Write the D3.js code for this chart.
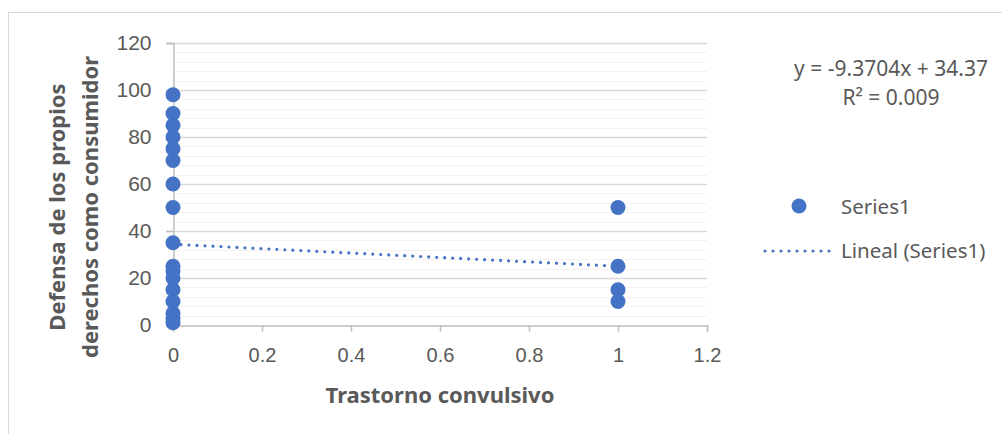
<!DOCTYPE html>
<html>
<head>
<meta charset="utf-8">
<script src="https://cdn.jsdelivr.net/npm/d3@7"></script>
<style>
  body { margin: 0; background: #fff; }
  svg { display: block; font-family: "Noto Sans", "Open Sans", sans-serif; }
</style>
</head>
<body>
<div id="chart"></div>
<script>
// Data
const xValues = [0, 0, 0, 0, 0, 0, 0, 0, 0, 0, 0, 0, 0, 0, 0, 0, 0, 1, 1, 1, 1];
const yValues = [98, 90, 85, 80, 75, 70, 60, 50, 35, 25, 23, 20, 15, 10, 5, 3, 1, 50, 25, 15, 10];
const xTicks = [0, 0.2, 0.4, 0.6, 0.8, 1, 1.2];
const yTicks = [0, 20, 40, 60, 80, 100, 120];
const trendCoef = [-9.3704, 34.37]; // slope, intercept
const trendRange = [0, 1];
const equationLines = ["y = -9.3704x + 34.37", "R² = 0.009"];
const legendLabels = ["Series1", "Lineal (Series1)"];

const W = 1002, H = 434;
const plot = { left: 173, right: 707, top: 43, bottom: 325 };
const blue = "#4472C4";
const textColor = "#595959";

const svg = d3.select("#chart").append("svg")
  .attr("width", W)
  .attr("height", H);

// Chart frame
svg.append("rect")
  .attr("x", 8.5).attr("y", 12.5)
  .attr("width", W + 10).attr("height", H + 10)
  .attr("fill", "#fff")
  .attr("stroke", "#d9d9d9");

const x = d3.scaleLinear().domain([0, 1.2]).range([plot.left, plot.right]);
const y = d3.scaleLinear().domain([0, 120]).range([plot.bottom, plot.top]);

// Minor gridlines (every 4)
svg.append("g")
  .selectAll("line")
  .data(d3.range(4, 120, 4).filter(v => v % 20 !== 0))
  .enter().append("line")
  .attr("x1", plot.left).attr("x2", plot.right)
  .attr("y1", d => Math.round(y(d)) + 0.5).attr("y2", d => Math.round(y(d)) + 0.5)
  .attr("stroke", "#f2f2f2").attr("stroke-width", 1);

// Major gridlines
svg.append("g")
  .selectAll("line")
  .data(yTicks.filter(v => v > 0))
  .enter().append("line")
  .attr("x1", plot.left - 7).attr("x2", plot.right)
  .attr("y1", d => Math.round(y(d)) + 0.5).attr("y2", d => Math.round(y(d)) + 0.5)
  .attr("stroke", "#d9d9d9").attr("stroke-width", 1.5);

// Y axis
const yAxis = svg.append("g")
  .attr("transform", `translate(${plot.left + 0.5},0)`)
  .call(d3.axisLeft(y).tickValues(yTicks).tickSize(7).tickPadding(15).tickFormat(d3.format("d")));
yAxis.select(".domain").attr("stroke", "#bfbfbf").attr("stroke-width", 1.5);
yAxis.selectAll(".tick line").attr("stroke", "#bfbfbf").attr("stroke-width", 1.5);
yAxis.selectAll("text").attr("fill", textColor).style("font-size", "21px");

// X axis
const xAxis = svg.append("g")
  .attr("transform", `translate(0,${plot.bottom + 0.5})`)
  .call(d3.axisBottom(x).tickValues(xTicks).tickSize(6).tickPadding(16).tickFormat(d => d3.format("")(+d.toFixed(1))));
xAxis.select(".domain").attr("stroke", "#bfbfbf").attr("stroke-width", 1.5);
xAxis.selectAll(".tick line").attr("stroke", "#bfbfbf").attr("stroke-width", 1.5);
xAxis.selectAll("text").attr("fill", textColor).style("font-size", "20px");

// Trendline
const trend = trendRange.map(v => [v, trendCoef[0] * v + trendCoef[1]]);
svg.append("path")
  .datum(trend)
  .attr("d", d3.line().x(d => x(d[0])).y(d => y(d[1])))
  .attr("fill", "none")
  .attr("stroke", blue)
  .attr("stroke-width", 3.2)
  .attr("stroke-linecap", "round")
  .attr("stroke-dasharray", "0,8");

// Points
svg.append("g")
  .selectAll("circle")
  .data(xValues.map((v, i) => [v, yValues[i]]))
  .enter().append("circle")
  .attr("cx", d => x(d[0]))
  .attr("cy", d => y(d[1]))
  .attr("r", 7.5)
  .attr("fill", blue);

// Axis titles
svg.append("text")
  .attr("x", 440)
  .attr("y", 403)
  .attr("text-anchor", "middle")
  .attr("fill", textColor)
  .style("font-size", "22px")
  .style("font-weight", "bold")
  .text("Trastorno convulsivo");

const yTitle = svg.append("text")
  .attr("transform", "translate(0,207) rotate(-90)")
  .attr("text-anchor", "middle")
  .attr("fill", textColor)
  .style("font-size", "22px")
  .style("font-weight", "bold");
yTitle.append("tspan").attr("x", 0).attr("y", 65).text("Defensa de los propios");
yTitle.append("tspan").attr("x", 0).attr("y", 98).text("derechos como consumidor");

// Trendline equation
svg.append("g")
  .selectAll("text")
  .data(equationLines)
  .enter().append("text")
  .attr("x", 891)
  .attr("y", (d, i) => 76 + i * 29)
  .attr("text-anchor", "middle")
  .attr("fill", textColor)
  .style("font-size", "21px")
  .text(d => d);

// Legend
const legend = svg.append("g");
legend.append("circle")
  .attr("cx", 799).attr("cy", 206).attr("r", 7.5).attr("fill", blue);
legend.append("line")
  .attr("x1", 765).attr("x2", 833).attr("y1", 251).attr("y2", 251)
  .attr("stroke", blue).attr("stroke-width", 3.2)
  .attr("stroke-linecap", "round").attr("stroke-dasharray", "0,8");
legend.selectAll("text")
  .data(legendLabels)
  .enter().append("text")
  .attr("x", 841)
  .attr("y", (d, i) => 214 + i * 44)
  .attr("fill", textColor)
  .style("font-size", "20.5px")
  .text(d => d);
</script>
</body>
</html>
